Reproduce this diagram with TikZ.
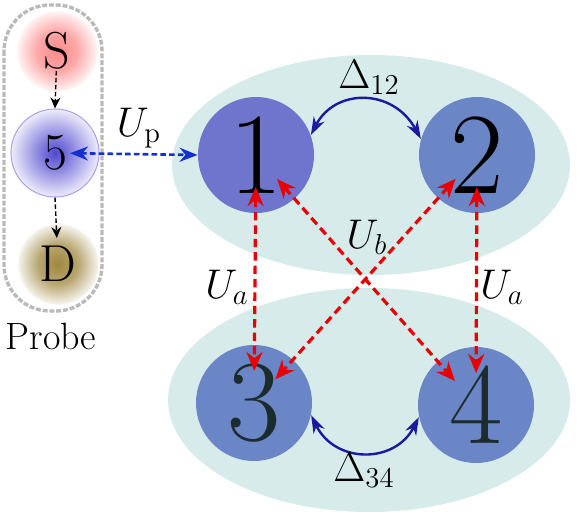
\documentclass[tikz,border=0pt]{standalone}
\usetikzlibrary{arrows.meta,shapes.geometric}
\definecolor{ellc}{HTML}{D6EBEA}
\definecolor{oneC}{HTML}{6F75CC}
\definecolor{twoC}{HTML}{6B86C6}
\definecolor{darkdig}{HTML}{1C2B2B}
\definecolor{redA}{HTML}{E80000}
\definecolor{blueA}{HTML}{1530D0}
\definecolor{navyA}{HTML}{1A1AA0}
\definecolor{probeS}{HTML}{FF8A8A}
\definecolor{probeF}{HTML}{5048D0}
\definecolor{probeD}{HTML}{A08840}
\definecolor{probeB}{HTML}{A89FEF}
\pgfdeclareradialshading{shS}{\pgfpoint{0bp}{0bp}}{color(0bp)=(probeS); color(12bp)=(probeS!75!white); color(24bp)=(probeS!12!white); color(25bp)=(white); color(50bp)=(white)}
\pgfdeclareradialshading{shF}{\pgfpoint{0bp}{0bp}}{color(0bp)=(probeF); color(10bp)=(probeF!65!white); color(25bp)=(probeF!10!white); color(50bp)=(probeF!10!white)}
\pgfdeclareradialshading{shD}{\pgfpoint{0bp}{0bp}}{color(0bp)=(probeD); color(12bp)=(probeD!75!white); color(24bp)=(probeD!12!white); color(25bp)=(white); color(50bp)=(white)}
\begin{document}
\begin{tikzpicture}[x=0.5pt,y=-0.5pt,
 site/.style={circle, minimum size=58pt, inner sep=0pt, font=\fontsize{58}{58}\selectfont},
 pb/.style={circle, minimum size=41pt, inner sep=0pt, font=\fontsize{26}{26}\selectfont},
 lab/.style={font=\fontsize{22}{22}\selectfont},
 redarr/.style={redA, line width=1.6pt, dash pattern=on 4.2pt off 2.5pt,
   {Stealth[length=9.5pt,width=8pt]}-{Stealth[length=9.5pt,width=8pt]}, shorten <=16pt, shorten >=16pt},
 bluearr/.style={blueA, line width=1.3pt, dash pattern=on 2.8pt off 1.6pt,
   {Stealth[length=9pt,width=7pt]}-{Stealth[length=9pt,width=7pt]}},
 navyarr/.style={navyA, line width=1.2pt,
   {Stealth[length=9pt,width=6pt]}-{Stealth[length=9pt,width=6pt]}},
 blkarr/.style={black, line width=0.7pt, dash pattern=on 2.2pt off 1.3pt, -{Stealth[length=5.5pt,width=5pt]}}
]
\useasboundingbox (0,0) rectangle (582,529);
% ellipses
\fill[ellc] (371,165) ellipse [x radius=99.5pt, y radius=55pt];
\fill[ellc] (369,400) ellipse [x radius=100.5pt, y radius=56pt];
% probe frame
\draw[black!27, line width=1.7pt, dash pattern=on 2.5pt off 0.9pt, rounded corners=23pt] (4,5) rectangle (102,311);
% probe nodes
\node[pb, shading=shS] (S) at (57,51) {S};
\node[pb, minimum size=44pt, shading=shF, draw=probeB, line width=0.5pt] (n5) at (55,153) {5};
\node[pb, shading=shD] (D) at (58,264) {D};
\node[font=\fontsize{19}{19}\selectfont] (lP) at (51,336) {Probe};
% sites
\node[site, fill=oneC] (n1) at (256,155) {1};
\node[site, fill=twoC] (n2) at (477,155) {2};
\node[site, fill=twoC, text=darkdig] (n3) at (254,403) {3};
\node[site, fill=twoC, text=darkdig] (n4) at (476,405) {4};
% probe arrows
\draw[blkarr, shorten <=10pt] (S.center) -- (n5.north);
\draw[blkarr, shorten >=13pt] (n5.south) -- (D.center);
\draw[bluearr, shorten <=7.5pt] (n5.center) -- (n1.west);
% couplings
\draw[navyarr] (n1.20) .. controls (335,88) and (393,88) .. (n2.164);
\draw[navyarr] (n3.-12) .. controls (335,464) and (395,464) .. (n4.192);
\draw[redarr] (n1.center) -- (n3.center);
\draw[redarr] (n2.center) -- (n4.center);
\draw[redarr] (n1.center) -- (n4.center);
\draw[redarr] (n2.center) -- (n3.center);
% labels
\node[lab] (lUp) at (139,128) {$U_{\mathrm{p}}$};
\node[lab] (lD12) at (369,77) {$\Delta_{12}$};
\node[lab] (lD34) at (364,470) {$\Delta_{34}$};
\node[lab] (lUb) at (367,237) {$U_b$};
\node[lab] (lUa1) at (227,287) {$U_a$};
\node[lab] (lUa2) at (502,287) {$U_a$};
\end{tikzpicture}
\end{document}
